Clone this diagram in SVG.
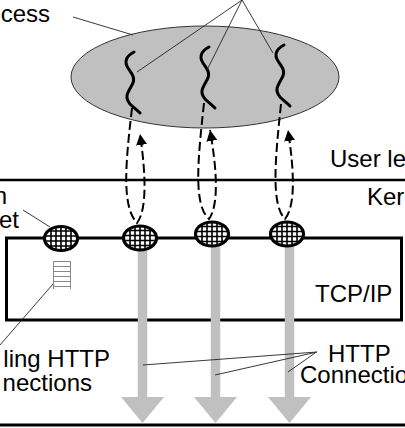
<svg xmlns="http://www.w3.org/2000/svg" width="405" height="428" viewBox="0 0 405 428">
<style>
text{font-family:"Liberation Sans",Arial,sans-serif;font-size:24px;fill:#000}
.lead{stroke:#222;stroke-width:0.9;fill:none}
.thread{stroke:#000;stroke-width:3;fill:none;stroke-linecap:round}
.loop{stroke:#000;stroke-width:2;fill:none;stroke-dasharray:9 4}
.gray{fill:#c0c0c0}
</style>
<defs>
<marker id="ah" viewBox="0 0 10 10" markerUnits="userSpaceOnUse" markerWidth="11" markerHeight="11" refX="10" refY="5" orient="auto">
<path d="M0,0 L10,5 L0,10 z" fill="#000"/>
</marker>
<clipPath id="sc"><ellipse cx="0" cy="0" rx="16.5" ry="12"/></clipPath>
<g id="sock">
<ellipse cx="0" cy="0" rx="16.5" ry="12" fill="#fff"/>
<g clip-path="url(#sc)" stroke="#000" stroke-width="1.6">
<path d="M-10,-14V14M-5,-14V14M0,-14V14M5,-14V14M10,-14V14M-18,-7.5H18M-18,-2.5H18M-18,2.5H18M-18,7.5H18"/>
</g>
<ellipse cx="0" cy="0" rx="16.5" ry="12" fill="none" stroke="#000" stroke-width="3.2"/>
</g>
<path id="thr" class="thread" d="M134,52 C126,56 124,62 128,68 C132,74 136,78 132,85 C128,92 124,97 130,104 C134,108 137,110 140,113"/>
<g id="garrow">
<rect x="-4.75" y="0" width="9.5" height="150" class="gray"/>
</g>
</defs>

<g id="process">
<ellipse cx="205" cy="77" rx="134" ry="51" fill="#c0c0c0" stroke="#333" stroke-width="1"/>
</g>
<g id="threads">
<use href="#thr"/>
<use href="#thr" transform="translate(75,-5)"/>
<use href="#thr" transform="translate(150,-7)"/>
</g>

<g id="tcpip">
<rect x="6.5" y="238" width="395" height="82" fill="none" stroke="#000" stroke-width="3"/>
</g>
<g id="levels">
<line x1="0" y1="180" x2="405" y2="180" stroke="#000" stroke-width="2.5"/>
<line x1="0" y1="425" x2="405" y2="425" stroke="#000" stroke-width="3"/>
</g>

<g id="queue" stroke="#888" stroke-width="1" fill="none">
<path d="M53.5,261V289M70.5,261V289M53.5,261.5H70.5M53.5,266.5H70.5M53.5,271.5H70.5M53.5,276.5H70.5M53.5,281.5H70.5M53.5,286.5H70.5"/>
</g>

<g id="connectors">
<path class="loop" d="M132,108 C126,160 121,206 137,223 C147,210 146,175 140,134" marker-end="url(#ah)"/>
<path class="loop" d="M204,103 C198,158 193,205 209,219 C219,205 217,170 210,130" marker-end="url(#ah)"/>
<path class="loop" d="M281,104 C275,160 271,205 285,219 C296,205 294,170 288,130" marker-end="url(#ah)"/>
<g id="http-arrows">
<rect x="137.75" y="248" width="9.5" height="150" class="gray"/>
<polygon points="121,397 164,397 142.5,423" class="gray"/>
<rect x="210.75" y="244" width="9.5" height="154" class="gray"/>
<polygon points="194,397 237,397 215.5,423" class="gray"/>
<rect x="284.75" y="244" width="9.5" height="154" class="gray"/>
<polygon points="268,397 311,397 289.5,423" class="gray"/>
</g>
<g id="leaders">
<line class="lead" x1="73" y1="17" x2="133" y2="35"/>
<line class="lead" x1="242" y1="0" x2="137" y2="72"/>
<line class="lead" x1="242" y1="0" x2="207" y2="70"/>
<line class="lead" x1="242" y1="0" x2="273" y2="53"/>
<line class="lead" x1="23" y1="210" x2="50" y2="227"/>
<line class="lead" x1="53" y1="284" x2="0" y2="345"/>
<line class="lead" x1="317" y1="352" x2="143" y2="365"/>
<line class="lead" x1="317" y1="352" x2="215" y2="375"/>
<line class="lead" x1="315" y1="353" x2="288" y2="372"/>
</g>
</g>

<g id="sockets">
<use href="#sock" transform="translate(61,238.5)"/>
<use href="#sock" transform="translate(140,238)"/>
<use href="#sock" transform="translate(212,234)"/>
<use href="#sock" transform="translate(287,234)"/>
</g>

<g id="labels">
<text x="50" y="22" text-anchor="end">cess</text>
<text x="330" y="167">User le</text>
<text x="367" y="205">Ker</text>
<text x="7" y="204" text-anchor="end">n</text>
<text x="19" y="228" text-anchor="end">et</text>
<text x="315" y="302">TCP/IP</text>
<text x="110" y="367" text-anchor="end">ling HTTP</text>
<text x="92" y="391" text-anchor="end">nections</text>
<text x="328" y="362">HTTP</text>
<text x="300" y="383">Connectio</text>
</g>
</svg>
